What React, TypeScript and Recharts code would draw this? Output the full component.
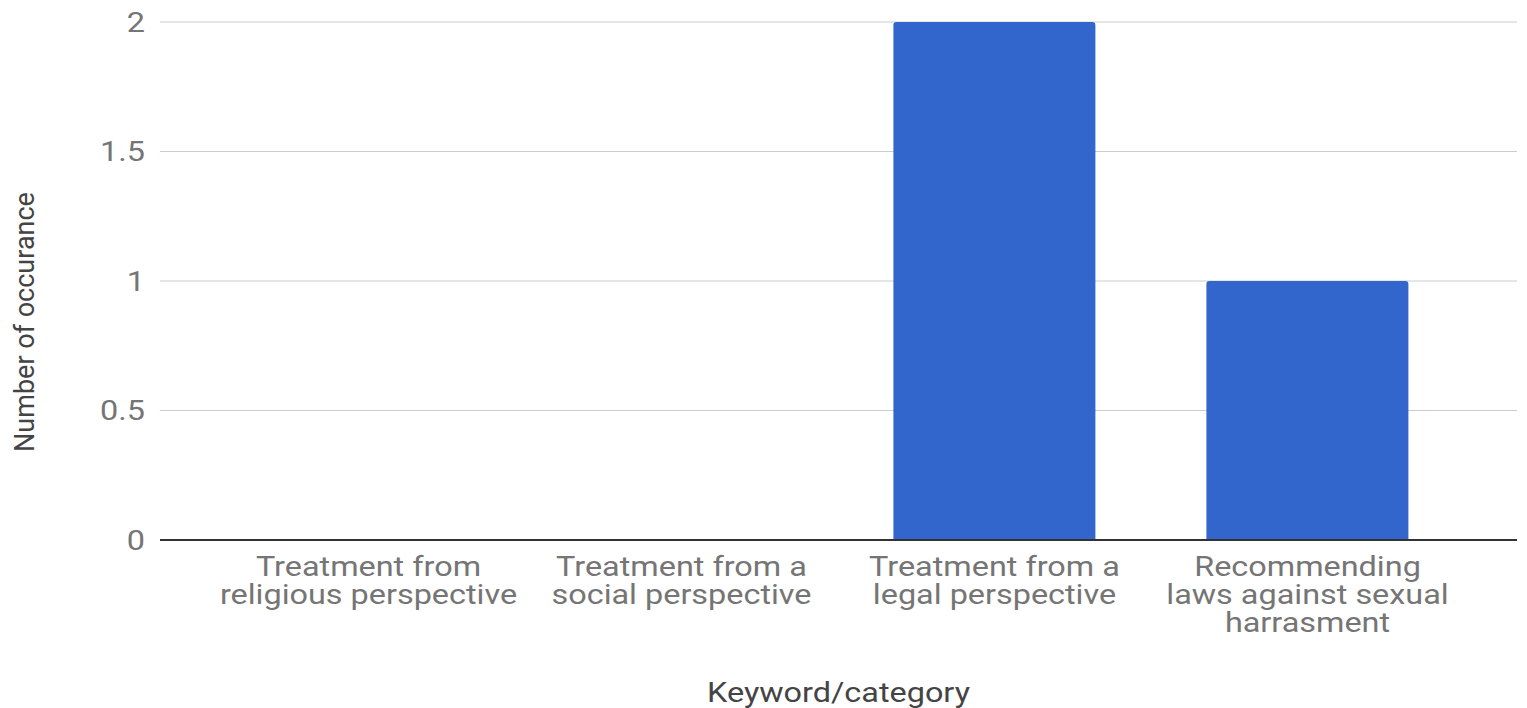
import React from 'react';
import { BarChart, Bar, XAxis, YAxis, CartesianGrid } from 'recharts';

// Category labels carry their own line breaks, as they wrap under the axis
const categories = [
  'Treatment from\nreligious perspective',
  'Treatment from a\nsocial perspective',
  'Treatment from a\nlegal perspective',
  'Recommending\nlaws against sexual\nharrasment',
];
const occurrences = [0, 0, 2, 1];
const yTicks = [0, 0.5, 1, 1.5, 2];

const data = categories.map((name, i) => ({ name, count: occurrences[i] }));

const FONT = 'Roboto, "Noto Sans", sans-serif';
// text is drawn a little wider than the font's natural shape
const STRETCH = 1.2;

const CategoryTick = (props: any) => {
  const { x, y, payload } = props;
  const lines = String(payload.value).split('\n');
  return (
    <g transform={`translate(${x},${y}) scale(${STRETCH},1)`}>
      <text x={0} y={0} textAnchor="middle" fill="#757575" fontSize={27} fontFamily={FONT}>
        {lines.map((line, i) => (
          <tspan key={i} x={0} dy={i === 0 ? 34 : 28}>
            {line}
          </tspan>
        ))}
      </text>
    </g>
  );
};

const ValueTick = (props: any) => {
  const { x, y, payload } = props;
  return (
    <g transform={`translate(${x},${y}) scale(${STRETCH},1)`}>
      <text x={0} y={0} textAnchor="end" dominantBaseline="central" fill="#757575" fontSize={27} fontFamily={FONT}>
        {payload.value}
      </text>
    </g>
  );
};

const YTitle = (props: any) => {
  const { viewBox } = props;
  const cx = 25;
  const cy = viewBox.y + viewBox.height / 2 + 41;
  return (
    <text
      x={cx}
      y={cy}
      transform={`rotate(-90 ${cx} ${cy})`}
      textAnchor="middle"
      dominantBaseline="central"
      fill="#444"
      fontSize={27}
      fontFamily={FONT}
    >
      Number of occurance
    </text>
  );
};

const XTitle = (props: any) => {
  const { viewBox } = props;
  const cx = viewBox.x + viewBox.width / 2;
  const cy = viewBox.y + 152;
  return (
    <g transform={`translate(${cx},${cy}) scale(${STRETCH},1)`}>
      <text x={0} y={0} textAnchor="middle" dominantBaseline="central" fill="#444" fontSize={27} fontFamily={FONT}>
        Keyword/category
      </text>
    </g>
  );
};

export default function App() {
  return (
    <div style={{ position: 'absolute', left: 0, top: 0, background: '#fff' }}>
      <BarChart
        width={1527}
        height={708}
        data={data}
        margin={{ top: 22, right: 10, left: 0, bottom: 0 }}
        barCategoryGap="17.7%"
      >
        <CartesianGrid vertical={false} stroke="#cccccc" />
        <XAxis
          dataKey="name"
          height={168}
          interval={0}
          padding={{ left: 52, right: 53 }}
          tickLine={false}
          tickSize={0}
          axisLine={{ stroke: '#333333', strokeWidth: 2 }}
          tick={<CategoryTick />}
          label={<XTitle />}
        />
        <YAxis
          width={160}
          domain={[0, 2]}
          ticks={yTicks}
          axisLine={false}
          tickLine={false}
          tickSize={0}
          tickMargin={15}
          tick={<ValueTick />}
          label={<YTitle />}
        />
        <Bar dataKey="count" fill="#3366cc" radius={[3, 3, 0, 0]} isAnimationActive={false} />
      </BarChart>
    </div>
  );
}
